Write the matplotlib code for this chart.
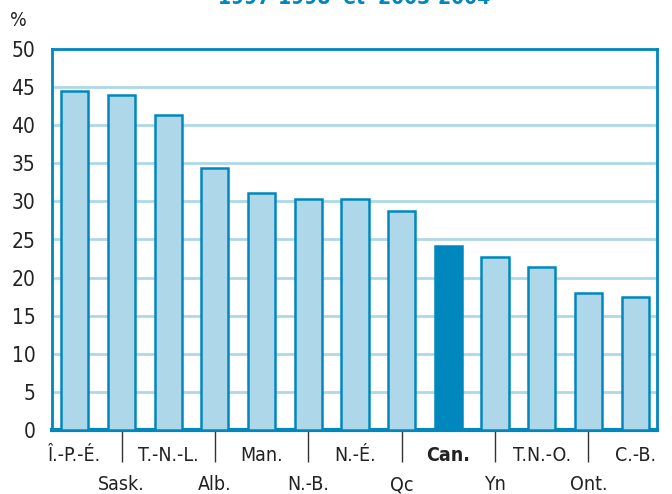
import matplotlib.pyplot as plt

provinces = ["Î.-P.-É.", "Sask.", "T.-N.-L.", "Alb.", "Man.", "N.-B.", "N.-É.",
             "Qc", "Can.", "Yn", "T.N.-O.", "Ont.", "C.-B."]
values = [44.5, 44.0, 41.4, 34.4, 31.1, 30.3, 30.3, 28.7, 24.1, 22.7, 21.4, 18.0, 17.5]
yticks = [0, 5, 10, 15, 20, 25, 30, 35, 40, 45, 50]

blue = '#0088be'
light = '#aed8e9'

plt.rcParams['font.family'] = ['DejaVu Sans']
plt.rcParams['font.stretch'] = 'condensed'

fig = plt.figure(figsize=(6.72, 4.94), dpi=100)
ax = fig.add_axes([52 / 672, 1 - 430 / 494, 605 / 672, 381 / 494])

x = list(range(len(provinces)))
colors = [blue if p == "Can." else light for p in provinces]
ax.bar(x, values, width=0.58, color=colors, edgecolor=blue, linewidth=1.8, zorder=3)

ax.set_ylim(0, 50)
ax.set_xlim(-0.49, len(provinces) - 0.53)
ax.set_yticks(yticks)
ax.set_yticklabels([str(v) for v in yticks], fontsize=15, color='#222222')
ax.tick_params(axis='y', length=0, pad=12)
ax.yaxis.grid(True, color=light, linewidth=2, zorder=0)
ax.set_axisbelow(True)

for s in ['left', 'right', 'top']:
    ax.spines[s].set_color(blue)
    ax.spines[s].set_linewidth(2)
ax.spines['bottom'].set_color(blue)
ax.spines['bottom'].set_linewidth(3)

# tick lines under the axis at every second bar
ax.set_xticks(x[1::2])
ax.set_xticklabels([])
ax.tick_params(axis='x', direction='out', length=23, width=1, color='#333333')

for i, p in enumerate(provinces):
    weight = 'bold' if p == "Can." else 'normal'
    y = -3.3 if i % 2 == 0 else -7.2
    ax.text(i, y, p, ha='center', va='center', fontsize=14, weight=weight,
            color='#222222', clip_on=False)

fig.text(18 / 672, 1 - 20 / 494, '%', fontsize=14, ha='center', va='center', color='#222222')
fig.text(354 / 672, 1 + 2 / 494, '1997-1998  et  2003-2004', fontsize=15, weight='bold',
         ha='center', va='center', color=blue)

fig.savefig('out.png', dpi=100)
